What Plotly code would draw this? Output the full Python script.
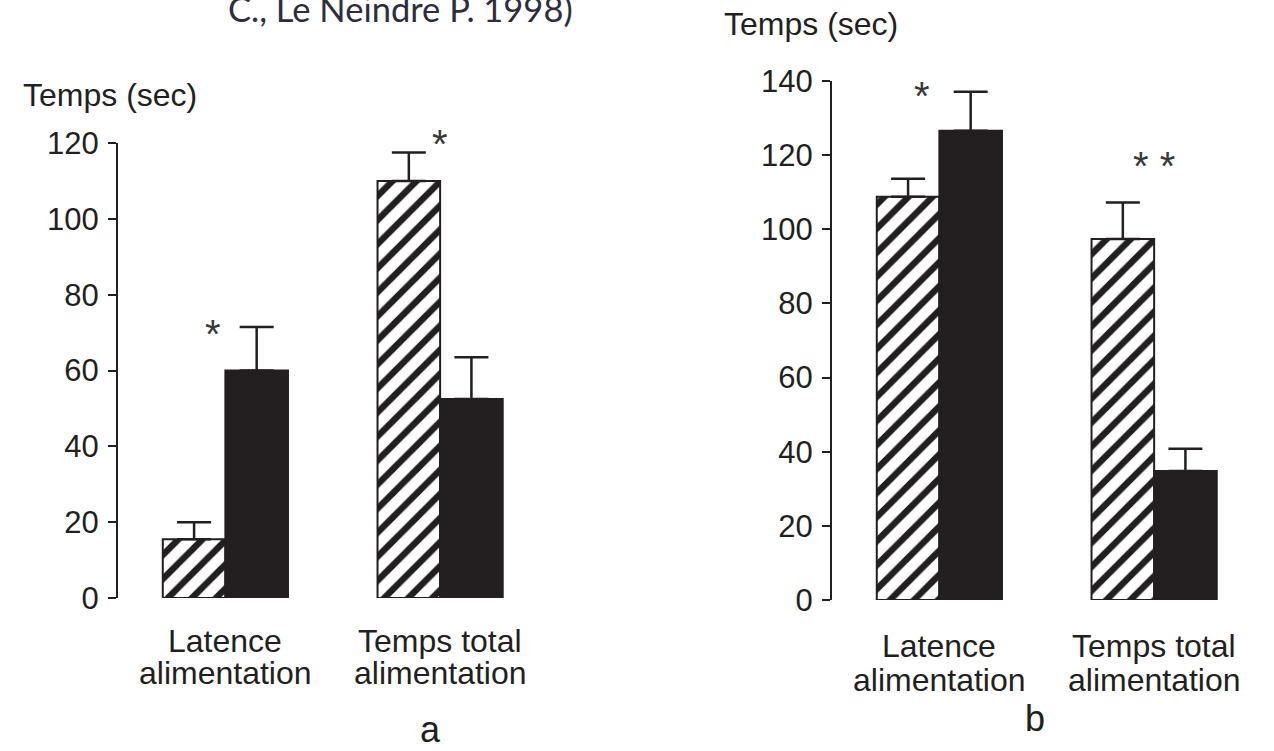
import plotly.graph_objects as go

# ---------------- data ----------------
categories = ["Latence alimentation", "Temps total alimentation"]
category_line1 = ["Latence", "Temps total"]
category_line2 = ["alimentation", "alimentation"]

a_hatched = [15.5, 110.0]
a_hatched_err = [4.5, 7.5]
a_black = [60.0, 52.5]
a_black_err = [11.5, 11.0]

b_hatched = [108.8, 97.4]
b_hatched_err = [4.8, 9.8]
b_black = [126.6, 34.8]
b_black_err = [10.5, 6.0]

a_ticks = [0, 20, 40, 60, 80, 100, 120]
b_ticks = [0, 20, 40, 60, 80, 100, 120, 140]

y_title = "Temps (sec)"
panel_labels = ["a", "b"]
source_text = "C., Le Neindre P. 1998)"

INK = "#231f20"
W, H = 1274, 751

def px_x(p):
    return p / W

def px_y(p):
    return (H - p) / H

def err(arr):
    return dict(type="data", array=arr, arrayminus=[0] * len(arr), symmetric=False,
                color=INK, thickness=2.5, width=17)

hatch = dict(shape="/", fgcolor=INK, bgcolor="white", size=17, solidity=0.38, fillmode="replace")

fig = go.Figure()
fig.add_trace(go.Bar(x=categories, y=a_hatched, error_y=err(a_hatched_err), xaxis="x", yaxis="y",
                     offsetgroup="h", marker=dict(color="white", pattern=hatch, line=dict(color=INK, width=2))))
fig.add_trace(go.Bar(x=categories, y=a_black, error_y=err(a_black_err), xaxis="x", yaxis="y",
                     offsetgroup="k", marker=dict(color=INK, line=dict(color=INK, width=2))))
fig.add_trace(go.Bar(x=categories, y=b_hatched, error_y=err(b_hatched_err), xaxis="x2", yaxis="y2",
                     offsetgroup="h", marker=dict(color="white", pattern=hatch, line=dict(color=INK, width=2))))
fig.add_trace(go.Bar(x=categories, y=b_black, error_y=err(b_black_err), xaxis="x2", yaxis="y2",
                     offsetgroup="k", marker=dict(color=INK, line=dict(color=INK, width=2))))

FONT = "Liberation Sans, Arial, sans-serif"
tickfont = dict(family=FONT, size=31, color=INK)
catfont = dict(family=FONT, size=32, color=INK)

xcommon = dict(range=[-0.5, 1.5], showline=False, showgrid=False, zeroline=False, ticks="",
               showticklabels=False, type="category", categoryorder="array", categoryarray=categories,
               automargin=False)
ycommon = dict(showline=True, linecolor=INK, linewidth=2, ticks="outside", ticklen=8, tickwidth=2,
               tickcolor=INK, showgrid=False, zeroline=False, tickfont=tickfont, ticklabelstandoff=3,
               automargin=False)

fig.update_layout(
    width=W, height=H,
    margin=dict(l=0, r=0, t=0, b=0, pad=0),
    paper_bgcolor="white", plot_bgcolor="white",
    showlegend=False, barmode="group", bargap=0.417, bargroupgap=0,
    xaxis=dict(domain=[px_x(118), px_x(547.5)], anchor="y", **xcommon),
    yaxis=dict(domain=[px_y(598), px_y(143)], range=[0, 120], tickvals=a_ticks, anchor="x", **ycommon),
    xaxis2=dict(domain=[px_x(832), px_x(1261.5)], anchor="y2", **xcommon),
    yaxis2=dict(domain=[px_y(600), px_y(81)], range=[0, 140], tickvals=b_ticks, anchor="x2", **ycommon),
)

star_font = dict(family=FONT, size=40, color="#3a3a3a")
annotations = [
    dict(text="*", x=-0.058, y=69.7, xref="x", yref="y", showarrow=False, font=star_font),
    dict(text="*", x=1.0, y=119.8, xref="x", yref="y", showarrow=False, font=star_font),
    dict(text="*", x=-0.079, y=136.0, xref="x2", yref="y2", showarrow=False, font=star_font),
    dict(text="* *", x=1.0, y=117.1, xref="x2", yref="y2", showarrow=False, font=star_font),
    dict(text=y_title, x=px_x(21), y=px_y(95), xref="paper", yref="paper", xanchor="left", yanchor="middle",
         showarrow=False, font=dict(family=FONT, size=32, color=INK)),
    dict(text=y_title, x=px_x(722), y=px_y(24), xref="paper", yref="paper", xanchor="left", yanchor="middle",
         showarrow=False, font=dict(family=FONT, size=32, color=INK)),
    dict(text=panel_labels[0], x=px_x(430), y=px_y(729), xref="paper", yref="paper", xanchor="center",
         yanchor="middle", showarrow=False, font=dict(family=FONT, size=36, color=INK)),
    dict(text=panel_labels[1], x=px_x(1035), y=px_y(718), xref="paper", yref="paper", xanchor="center",
         yanchor="middle", showarrow=False, font=dict(family=FONT, size=36, color=INK)),
    dict(text=source_text, x=px_x(226), y=px_y(31), xref="paper", yref="paper", xanchor="left",
         yanchor="bottom", showarrow=False, font=dict(family="Lato, sans-serif", size=34.5, color="#2e2d3d")),
]

# category labels (two lines) under each group, for both panels
for xa, (y1, y2) in (("x", (641, 673)), ("x2", (646, 680))):
    for i in range(len(categories)):
        annotations.append(dict(text=category_line1[i], x=i, y=px_y(y1), xref=xa, yref="paper",
                                xanchor="center", yanchor="middle", showarrow=False, font=catfont))
        annotations.append(dict(text=category_line2[i], x=i, y=px_y(y2), xref=xa, yref="paper",
                                xanchor="center", yanchor="middle", showarrow=False, font=catfont))

fig.update_layout(annotations=annotations)

fig.write_html("out.html", config={"displayModeBar": False},
               post_script="document.body.style.margin='0';document.body.style.padding='0';")
